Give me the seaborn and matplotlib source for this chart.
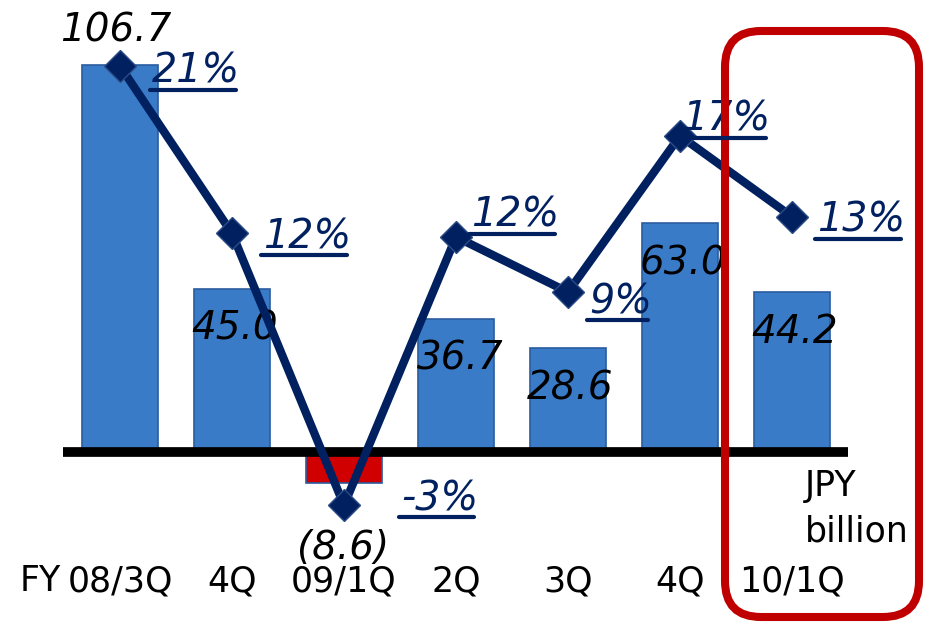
import numpy as np
import pandas as pd
import matplotlib
matplotlib.use("Agg")
import matplotlib.pyplot as plt
import seaborn as sns
from matplotlib.patches import FancyBboxPatch
from matplotlib.lines import Line2D

# ---------------- data ----------------
period_keys = ["FY08/3Q", "FY08/4Q", "FY09/1Q", "FY09/2Q", "FY09/3Q", "FY09/4Q", "FY10/1Q"]
tick_labels = ["08/3Q", "4Q", "09/1Q", "2Q", "3Q", "4Q", "10/1Q"]
values = [106.7, 45.0, -8.6, 36.7, 28.6, 63.0, 44.2]          # JPY billion
value_labels = ["106.7", "45.0", "(8.6)", "36.7", "28.6", "63.0", "44.2"]
margin_pct = [21.0, 11.9, -2.9, 11.7, 8.7, 17.2, 12.8]        # %
pct_labels = ["21%", "12%", "-3%", "12%", "9%", "17%", "13%"]

# ---------------- style ----------------
sns.set_style("white")
plt.rcParams["font.family"] = ["DejaVu Sans"]

W, H = 926, 622
fig = plt.figure(figsize=(W / 100, H / 100), dpi=100)

blue = "#3A7BC8"
red = "#D00000"
navy = "#002060"
bar_colors = [red if v < 0 else blue for v in values]

df = pd.DataFrame({"period": period_keys, "value": values})

ax = fig.add_axes([63 / W, 0, 785 / W, 1])
sns.barplot(data=df, x="period", y="value", hue="period", palette=bar_colors,
            saturation=1, width=0.67, legend=False, ax=ax,
            edgecolor="#2A5C9E", linewidth=1.2, zorder=1)
ax.set_xlim(-0.509, 6.5)
ax.set_ylim(-46.87, 124.62)
ax.axis("off")
ax.axhline(0, color="black", lw=7, zorder=3, solid_capstyle="butt")

ax2 = ax.twinx()
ax2.set_position(ax.get_position())
sns.lineplot(x=np.arange(len(margin_pct)), y=margin_pct, ax=ax2, color=navy,
             lw=6, marker="D", markersize=16, markeredgecolor="#2B4C86",
             markeredgewidth=1, markerfacecolor=navy, zorder=5, legend=False)
ax2.set_xlim(-0.509, 6.5)
ax2.set_ylim(-9.25, 24.59)
ax2.axis("off")

# value labels (offsets in pixels from bar end)
val_offsets = [(-4, 23), (3, -51), (-1, -76), (4, -51), (2, -51), (3, -51.5), (3, -51)]
for i, (v, lab) in enumerate(zip(values, value_labels)):
    ax.annotate(lab, xy=(i, v), xytext=val_offsets[i], textcoords="offset pixels",
                ha="center", va="baseline", fontsize=28, style="italic",
                color="black", zorder=4)

# percentage labels
pct_offsets = [(32, -17), (31, -15), (57, -5), (15, 10), (21, -21), (2, 5), (25, -15)]
pct_texts = []
for i, (p, lab) in enumerate(zip(margin_pct, pct_labels)):
    t = ax2.annotate(lab, xy=(i, p), xytext=pct_offsets[i], textcoords="offset pixels",
                     ha="left", va="baseline", fontsize=28.5, style="italic",
                     color=navy, zorder=6)
    pct_texts.append(t)

# category labels
for i, lab in enumerate(tick_labels):
    ax.annotate(lab, xy=(i, 0), xytext=(0, -139), textcoords="offset pixels",
                ha="center", va="baseline", fontsize=25, color="black")

# overlay in pixel coordinates
ov = fig.add_axes([0, 0, 1, 1], zorder=10)
ov.set_xlim(0, W)
ov.set_ylim(H, 0)
ov.axis("off")
ov.patch.set_alpha(0)

ov.text(20, 591, "FY", ha="left", va="baseline", fontsize=25, color="black")
ov.text(805, 496, "JPY", ha="left", va="baseline", fontsize=25, color="black")
ov.text(805, 541, "billion", ha="left", va="baseline", fontsize=25, color="black")

box = FancyBboxPatch((725, 31), 194, 586, boxstyle="round,pad=0,rounding_size=36",
                     fill=False, ec="#C00000", lw=5.8)
ov.add_patch(box)

# underlines for percentage labels
fig.canvas.draw()
renderer = fig.canvas.get_renderer()
for i, (p, t) in enumerate(zip(margin_pct, pct_texts)):
    bb = t.get_window_extent(renderer)
    disp = ax2.transData.transform((i, p))
    base_y = disp[1] + pct_offsets[i][1]
    uy = H - (base_y - 7)
    ov.add_line(Line2D([bb.x0 - 2, bb.x1 - 4], [uy, uy], color=navy, lw=3))

fig.savefig("out.png", dpi=100)
